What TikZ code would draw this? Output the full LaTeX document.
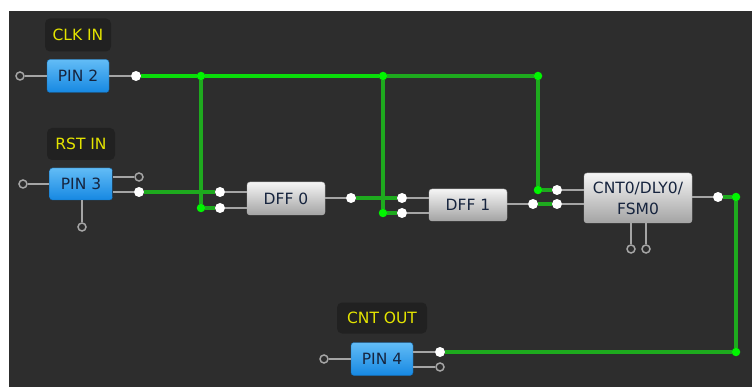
\documentclass[tikz,border=0pt]{standalone}
\usepackage{fontspec}
\setmainfont{DejaVu Sans}
\usetikzlibrary{positioning}
\definecolor{bgdark}{RGB}{45,45,45}
\definecolor{tagfill}{RGB}{33,33,33}
\definecolor{tagtext}{RGB}{228,228,0}
\definecolor{pintop}{RGB}{98,188,246}
\definecolor{pinbot}{RGB}{22,136,226}
\definecolor{pinink}{RGB}{22,36,62}
\definecolor{wiregray}{RGB}{165,165,165}
\definecolor{wirelit}{RGB}{10,220,10}
\definecolor{wiredim}{RGB}{30,170,30}
\definecolor{jointgreen}{RGB}{0,245,0}

\begin{document}
\begin{tikzpicture}[
    x=1pt,y=-1pt,
    every node/.style={font=\fontsize{15.5}{21}\selectfont},
    tagbox/.style={rectangle,rounded corners=5pt,fill=tagfill,text=tagtext,
      inner sep=0pt},
    pinbox/.style={rectangle,rounded corners=3pt,draw=pinbot!80!black,thin,
      top color=pintop,bottom color=pinbot,text=pinink,
      minimum width=62pt,minimum height=33pt,inner sep=0pt},
    blockbox/.style={rectangle,rounded corners=3pt,draw=gray!60,thin,
      top color=white!96!black,bottom color=white!64!black,text=pinink,
      minimum height=33pt,inner sep=0pt,align=center},
    opendot/.style={circle,draw=wiregray,line width=1.5pt,fill=bgdark,
      minimum size=8pt,inner sep=0pt},
    portdot/.style={circle,fill=white,minimum size=10pt,inner sep=0pt},
    joint/.style={circle,fill=jointgreen,minimum size=8.5pt,inner sep=0pt},
    wire/.style={draw=wiregray,line width=1.4pt},
    greenwire/.style={draw=wiredim,line width=3.2pt},
    litwire/.style={draw=wirelit,line width=3.2pt}
  ]
    \useasboundingbox (0,0) rectangle (752,387);
    \fill[bgdark] (9,11) rectangle (752,387);

    % pins and labels
    \node[tagbox,minimum width=66pt,minimum height=33pt] (tagclk) at (78,35) {CLK IN};
    \node[pinbox] (pin2) at (78,76) {PIN 2};
    \node[opendot] (p2in) at (20,76) {};
    \node[portdot] (p2q) at (136,76) {};

    \node[tagbox,minimum width=68pt,minimum height=32pt] (tagrst) at (81,144) {RST IN};
    \node[pinbox,minimum width=63pt,minimum height=32pt] (pin3) at (81,184) {PIN 3};
    \node[opendot] (p3in) at (23,184) {};
    \node[opendot] (p3oe) at (139,177) {};
    \node[portdot] (p3q) at (139,192) {};
    \node[opendot] (p3pu) at (82,227) {};

    \node[tagbox,minimum width=90pt,minimum height=31pt] (tagcnt) at (382,318) {CNT OUT};
    \node[pinbox] (pin4) at (382,359) {PIN 4};
    \node[opendot] (p4in) at (324,359) {};
    \node[portdot] (p4d) at (440,352) {};
    \node[opendot] (p4oe) at (440,367) {};

    % logic blocks
    \node[blockbox,minimum width=78pt] (dff0) at (286,198.5) {DFF 0};
    \node[portdot] (d0clk) at (220,192) {};
    \node[portdot] (d0d) at (220,208) {};
    \node[portdot] (d0q) at (351,198) {};

    \node[blockbox,minimum width=78pt,minimum height=32pt] (dff1) at (468,205) {DFF 1};
    \node[portdot] (d1clk) at (402,198) {};
    \node[portdot] (d1d) at (402,213) {};
    \node[portdot] (d1q) at (533,204) {};

    \node[blockbox,minimum width=108pt,minimum height=50pt] (cnt) at (638,198) {CNT0/DLY0/\\FSM0};
    \node[portdot] (cclk) at (557,190) {};
    \node[portdot] (crst) at (557,204) {};
    \node[opendot] (ckx) at (631,249) {};
    \node[opendot] (cky) at (646,249) {};
    \node[portdot] (cq) at (718,197) {};

    % junctions
    \node[joint] (j1) at (201,76) {};
    \node[joint] (j2) at (383,76) {};
    \node[joint] (j3) at (538,76) {};
    \node[joint] (j1b) at (201,208) {};
    \node[joint] (j2b) at (383,213) {};
    \node[joint] (j3b) at (538,190) {};
    \node[joint] (j4) at (736,197) {};
    \node[joint] (j5) at (736,352) {};

    % port stubs
    \draw[wire] (p2in) -- (p2in -| pin2.west);
    \draw[wire] (p2q) -- (p2q -| pin2.east);
    \draw[wire] (p3in) -- (p3in -| pin3.west);
    \draw[wire] (p3oe) -- (p3oe -| pin3.east);
    \draw[wire] (p3q) -- (p3q -| pin3.east);
    \draw[wire] (p3pu) -- (p3pu |- pin3.south);
    \draw[wire] (p4in) -- (p4in -| pin4.west);
    \draw[wire] (p4d) -- (p4d -| pin4.east);
    \draw[wire] (p4oe) -- (p4oe -| pin4.east);
    \draw[wire] (d0clk) -- (d0clk -| dff0.west);
    \draw[wire] (d0d) -- (d0d -| dff0.west);
    \draw[wire] (d0q) -- (d0q -| dff0.east);
    \draw[wire] (d1clk) -- (d1clk -| dff1.west);
    \draw[wire] (d1d) -- (d1d -| dff1.west);
    \draw[wire] (d1q) -- (d1q -| dff1.east);
    \draw[wire] (cclk) -- (cclk -| cnt.west);
    \draw[wire] (crst) -- (crst -| cnt.west);
    \draw[wire] (ckx) -- (ckx |- cnt.south);
    \draw[wire] (cky) -- (cky |- cnt.south);
    \draw[wire] (cq) -- (cq -| cnt.east);

    % nets
    \draw[litwire] (p2q) -- (j1);
    \draw[litwire] (j1) -- (j2);
    \draw[greenwire] (j2) -- (j3);
    \draw[greenwire] (j1) -- (j1b);
    \draw[greenwire] (j1b) -- (d0d);
    \draw[greenwire] (p3q) -- (d0clk);
    \draw[greenwire] (d0q) -- (d1clk);
    \draw[greenwire] (j2) -- (j2b);
    \draw[greenwire] (j2b) -- (d1d);
    \draw[greenwire] (j3) -- (j3b);
    \draw[greenwire] (j3b) -- (cclk);
    \draw[greenwire] (d1q) -- (crst);
    \draw[greenwire] (cq) -- (j4);
    \draw[greenwire] (j4) -- (j5);
    \draw[greenwire] (j5) -- (p4d);
  \end{tikzpicture}
\end{document}
